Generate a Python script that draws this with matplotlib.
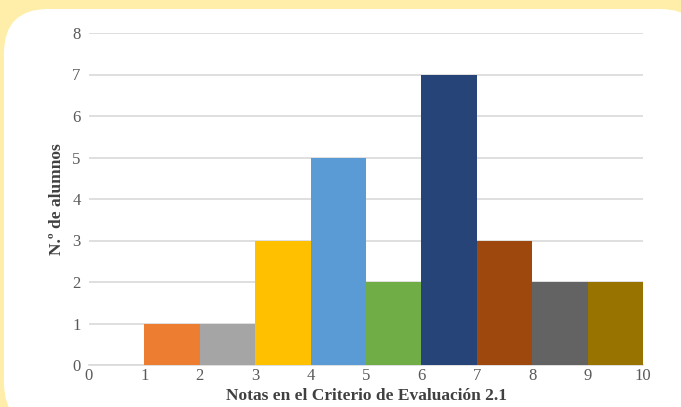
import numpy as np
import matplotlib.pyplot as plt
from matplotlib.patches import FancyBboxPatch

# histogram data
edges = [0, 1, 2, 3, 4, 5, 6, 7, 8, 9, 10]
counts = [0, 1, 1, 3, 5, 2, 7, 3, 2, 2]
colors = ['#5B9BD5', '#ED7D31', '#A5A5A5', '#FFC000', '#5B9BD5',
          '#70AD47', '#264478', '#9E480E', '#636363', '#997300']
yticks = [0, 1, 2, 3, 4, 5, 6, 7, 8]

plt.rcParams['font.family'] = ['Liberation Serif', 'DejaVu Serif']

fig = plt.figure(figsize=(6.81, 4.07), dpi=100)
fig.patch.set_facecolor('#FFEEAA')

# white rounded panel (pixel coords)
W, H = 681.0, 407.0
panel = FancyBboxPatch((4 / W, -20 / H), 700 / W, (407 - 9 + 20) / H,
                       boxstyle='round,pad=0,rounding_size=0.065',
                       transform=fig.transFigure, facecolor='white',
                       edgecolor='none', zorder=-10, mutation_aspect=W / H)
fig.patches.append(panel)

ax = fig.add_axes([89 / W, 1 - 365 / H, (643 - 89) / W, (365 - 33) / H])
ax.set_facecolor('none')
ax.set_zorder(1)

widths = np.diff(edges)
ax.bar(edges[:-1], counts, width=widths, align='edge', color=colors,
       edgecolor='none', zorder=3)

ax.set_xlim(0, 10)
ax.set_ylim(0, 8)
ax.set_xticks(edges)
ax.set_yticks(yticks)
ax.grid(axis='y', color='#D9D9D9', linewidth=1.2, zorder=0)
for s in ['top', 'right', 'left']:
    ax.spines[s].set_visible(False)
ax.spines['bottom'].set_color('#D9D9D9')
ax.spines['bottom'].set_linewidth(1.2)
ax.tick_params(length=0, labelsize=12, colors='#595959', pad=6)
ax.tick_params(axis='x', pad=2)

ax.set_xlabel('Notas en el Criterio de Evaluación 2.1', fontsize=12.5,
              color='#404040', fontweight='bold', labelpad=3)
ax.set_ylabel('N.º de alumnos', fontsize=12.5, color='#404040',
              fontweight='bold', labelpad=5)

plt.savefig('out.png', dpi=100, facecolor=fig.get_facecolor())
